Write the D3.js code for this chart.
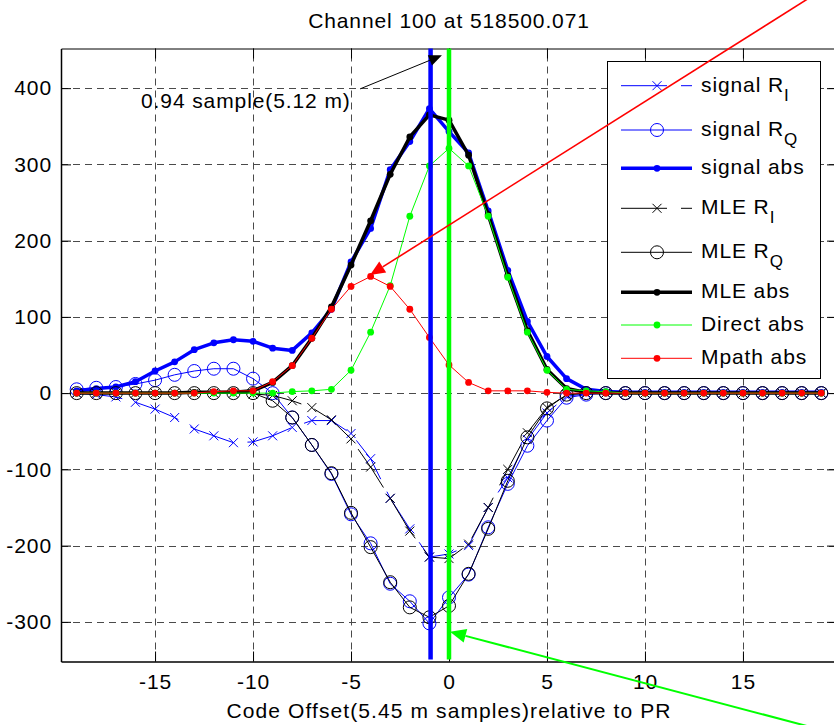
<!doctype html>
<html lang="en">
<head>
    <meta charset="UTF-8">
    <title>Channel 100 at 518500.071</title>
    <script src="https://d3js.org/d3.v7.min.js"></script>
    <style>
        body { margin: 0; background: #fff; }
        svg text {
            font-family: "Liberation Sans", Arial, Helvetica, sans-serif;
            letter-spacing: 0.9px;
            fill: #000;
        }
    </style>
</head>
<body>
<div class="canvas"></div>

<script>
  // code offsets (samples)
  const offsets = [-19, -18, -17, -16, -15, -14, -13, -12, -11, -10, -9, -8, -7, -6, -5, -4, -3, -2, -1, 0,
    1, 2, 3, 4, 5, 6, 7, 8, 9, 10, 11, 12, 13, 14, 15, 16, 17, 18, 19];

  // series
  const signalRI = [0, -2, -5, -12, -21, -32, -47, -56, -65, -64, -56, -45, -36, -36, -53, -86, -138, -178, -215, -211,
    -200, -150, -111, -61, -26, -4, -1, 0, 0, 0, 0, 0, 0, 0, 0, 0, 0, 0, 0];
  const signalRQ = [5, 7, 8, 12, 17, 24, 29, 32, 32, 19, 0, -32, -68, -106, -159, -197, -250, -273, -302, -268,
    -238, -176, -119, -69, -36, -6, -2, 0, 0, 0, 0, 0, 0, 0, 0, 0, 0, 0, 0];
  const signalAbs = [3, 6, 8, 15, 29, 41, 57, 66, 70, 68, 59, 56, 79, 110, 172, 216, 293, 330, 373, 343,
    315, 239, 161, 94, 48, 19, 5, 2, 1, 1, 1, 1, 1, 1, 1, 1, 1, 1, 1];
  const mleRI = [0, 0, 0, 0, 0, 0, 0, 0, 0, -1, -3, -10, -19, -35, -60, -97, -138, -181, -215, -217,
    -198, -150, -100, -52, -19, -2, 0, 0, 0, 0, 0, 0, 0, 0, 0, 0, 0, 0, 0];
  const mleRQ = [0, 0, 0, 0, 0, 0, 0, 0, 0, 0, -10, -32, -68, -105, -157, -202, -248, -281, -294, -279,
    -237, -178, -115, -58, -20, -2, 0, 0, 0, 0, 0, 0, 0, 0, 0, 0, 0, 0, 0];
  const mleAbs = [0, 0, 0, 0, 0, 0, 1, 1, 1, 3, 14, 36, 72, 113, 168, 226, 287, 336, 365, 358,
    312, 234, 154, 82, 31, 6, 1, 0, 0, 0, 0, 0, 0, 0, 0, 0, 0, 0, 0];
  const directAbs = [0, 0, 0, 0, 0, 0, 0, 0, 0, 0, 0, 2, 3, 5, 30, 80, 141, 232, 298, 321,
    298, 232, 152, 80, 30, 5, 3, 2, 0, 0, 0, 0, 0, 0, 0, 0, 0, 0, 0];
  const mpathAbs = [0, 0, 0, 0, 0, 0, 0, 2, 3, 3, 15, 36, 72, 110, 140, 153, 140, 110, 73, 37,
    14, 3, 3, 3, 1, 0, 0, 0, 0, 0, 0, 0, 0, 0, 0, 0, 0, 0, 0];

  const xTicks = [-15, -10, -5, 0, 5, 10, 15];
  const yTicks = [-300, -200, -100, 0, 100, 200, 300, 400];

  // vertical markers: estimated peak and PR
  const peakOffset = -0.94;
  const prOffset = 0;

  // annotation arrows [tailX, tailY, tipX, tipY] in data units
  const sampleArrow = [-4.54, 399, -0.36, 443];
  const mpathArrow = [20.46, 552, -4.03, 155];
  const directArrow = [19.65, -446, 0.05, -313];

  const width = 834, height = 725;
  const x = d3.scaleLinear().domain([-19.8, 19.8]).range([61, 837]);
  const y = d3.scaleLinear().domain([-352, 452]).range([661.5, 48.5]);

  const svg = d3.select('.canvas')
    .append('svg')
    .attr('width', width)
    .attr('height', height)

  const FS = 21;

  // grid
  const grid = svg.append('g')
    .attr('stroke', '#4a4a4a')
    .attr('stroke-width', 1)
    .attr('stroke-dasharray', '7,5')
  grid.selectAll('.gx')
    .data(xTicks)
    .join('line')
    .attr('x1', d => Math.round(x(d)) + 0.5)
    .attr('x2', d => Math.round(x(d)) + 0.5)
    .attr('y1', y.range()[0])
    .attr('y2', y.range()[1])
  grid.selectAll('.gy')
    .data(yTicks)
    .join('line')
    .attr('class', 'gy')
    .attr('y1', d => Math.round(y(d)) + 0.5)
    .attr('y2', d => Math.round(y(d)) + 0.5)
    .attr('x1', x.range()[0])
    .attr('x2', x.range()[1])

  // axes (MATLAB style box, ticks inside)
  function styleAxis(g) {
    g.selectAll('text')
      .attr('font-size', FS)
      .attr('font-family', '"Liberation Sans", Arial, sans-serif')
    g.selectAll('path, line').attr('stroke', '#000')
  }

  const plain = d => String(d)

  svg.append('g')
    .attr('transform', `translate(0,${y.range()[0]})`)
    .call(d3.axisBottom(x).tickValues(xTicks).tickFormat(plain).tickSizeInner(-10).tickSizeOuter(0).tickPadding(12.6))
    .call(styleAxis)
    .attr('font-size', FS)
    .call(g => g.select('.domain').attr('stroke-width', 1.5))

  svg.append('g')
    .attr('transform', `translate(0,${y.range()[1]})`)
    .call(d3.axisTop(x).tickValues(xTicks).tickSizeInner(-10).tickSizeOuter(0).tickFormat(''))
    .call(styleAxis)

  svg.append('g')
    .attr('transform', `translate(${x.range()[0]},0)`)
    .call(d3.axisLeft(y).tickValues(yTicks).tickFormat(plain).tickSizeInner(-10).tickSizeOuter(0).tickPadding(9))
    .call(styleAxis)
    .attr('font-size', FS)
    .call(g => g.select('.domain').attr('stroke-width', 1.5))

  svg.append('g')
    .attr('transform', `translate(${x.range()[1]},0)`)
    .call(d3.axisRight(y).tickValues(yTicks).tickSizeInner(-10).tickSizeOuter(0).tickFormat(''))
    .call(styleAxis)

  // series
  const series = [
    {name: 'signal R', sub: 'I', values: signalRI, color: '#0000ff', width: 1, dash: '46,14', marker: 'x'},
    {name: 'signal R', sub: 'Q', values: signalRQ, color: '#0000ff', width: 1, dash: null, marker: 'o'},
    {name: 'signal abs', values: signalAbs, color: '#0000ff', width: 3.5, dash: null, marker: '.'},
    {name: 'MLE R', sub: 'I', values: mleRI, color: '#000000', width: 1, dash: '46,14', marker: 'x'},
    {name: 'MLE R', sub: 'Q', values: mleRQ, color: '#000000', width: 1, dash: null, marker: 'o'},
    {name: 'MLE abs', values: mleAbs, color: '#000000', width: 3.5, dash: null, marker: '.'},
    {name: 'Direct abs', values: directAbs, color: '#00ff00', width: 1, dash: null, marker: '.'},
    {name: 'Mpath abs', values: mpathAbs, color: '#ff0000', width: 1, dash: null, marker: '.'}
  ];

  const line = d3.line()
    .x(d => x(d[0]))
    .y(d => y(d[1]))

  function drawMarker(sel, marker, color) {
    if (marker === 'x') {
      sel.append('path')
        .attr('d', 'M-4.5,-4.5L4.5,4.5M-4.5,4.5L4.5,-4.5')
        .attr('stroke', color)
        .attr('stroke-width', 1)
        .attr('fill', 'none')
    } else if (marker === 'o') {
      sel.append('circle')
        .attr('r', 6.5)
        .attr('stroke', color)
        .attr('stroke-width', 1)
        .attr('fill', 'none')
    } else {
      sel.append('circle')
        .attr('r', 3.4)
        .attr('fill', color)
    }
  }

  const plot = svg.append('g')
  series.forEach(s => {
    const pts = offsets.map((o, i) => [o, s.values[i]])
    const g = plot.append('g')
    g.append('path')
      .datum(pts)
      .attr('d', line)
      .attr('fill', 'none')
      .attr('stroke', s.color)
      .attr('stroke-width', s.width)
      .attr('stroke-dasharray', s.dash)
      .attr('stroke-linejoin', 'round')
    g.selectAll('g.m')
      .data(pts)
      .join('g')
      .attr('transform', d => `translate(${x(d[0])},${y(d[1])})`)
      .each(function () { drawMarker(d3.select(this), s.marker, s.color) })
  })

  // vertical lines
  plot.append('line')
    .attr('x1', x(peakOffset)).attr('x2', x(peakOffset))
    .attr('y1', y.range()[0] - 2).attr('y2', y.range()[1])
    .attr('stroke', '#0000ff').attr('stroke-width', 4.5)
  plot.append('line')
    .attr('x1', x(prOffset)).attr('x2', x(prOffset))
    .attr('y1', y.range()[0] - 2).attr('y2', y.range()[1])
    .attr('stroke', '#00ff00').attr('stroke-width', 4.5)

  // legend
  const legendRows = [85.7, 130, 168.3, 208.3, 252.3, 292.3, 325, 358.3];
  const legend = svg.append('g')
  legend.append('rect')
    .attr('x', 607.5).attr('y', 61.5)
    .attr('width', 213).attr('height', 317)
    .attr('fill', '#fff').attr('stroke', '#000').attr('stroke-width', 1)
  series.forEach((s, i) => {
    const ly = legendRows[i]
    const row = legend.append('g')
    row.append('line')
      .attr('x1', 621).attr('x2', 692)
      .attr('y1', ly).attr('y2', ly)
      .attr('stroke', s.color)
      .attr('stroke-width', s.width)
      .attr('stroke-dasharray', s.dash)
    drawMarker(row.append('g').attr('transform', `translate(657,${ly})`), s.marker, s.color)
    const t = row.append('text')
      .attr('x', 701)
      .attr('y', ly + 6)
      .attr('font-size', FS)
      .text(s.name)
    if (s.sub) {
      t.append('tspan')
        .attr('dy', 9)
        .attr('font-size', 17)
        .text(s.sub)
    }
  })

  // annotation arrows
  function arrow(a, color, w, head, hw) {
    const x1 = x(a[0]), y1 = y(a[1]), x2 = x(a[2]), y2 = y(a[3])
    const ang = Math.atan2(y2 - y1, x2 - x1)
    const bx = x2 - head * Math.cos(ang), by = y2 - head * Math.sin(ang)
    svg.append('line')
      .attr('x1', x1).attr('y1', y1)
      .attr('x2', bx).attr('y2', by)
      .attr('stroke', color).attr('stroke-width', w)
    const px = -Math.sin(ang) * hw, py = Math.cos(ang) * hw
    svg.append('path')
      .attr('d', `M${x2},${y2}L${bx + px},${by + py}L${bx - px},${by - py}Z`)
      .attr('fill', color)
  }

  arrow(sampleArrow, '#000', 1, 13, 5.5)
  arrow(mpathArrow, '#ff0000', 1.6, 15, 6.5)
  arrow(directArrow, '#00ff00', 2, 16, 7)

  svg.append('text')
    .attr('x', 141)
    .attr('y', 108)
    .attr('font-size', FS)
    .text('0.94 sample(5.12 m)')

  // title and label
  svg.append('text')
    .attr('x', 449)
    .attr('y', 28)
    .attr('text-anchor', 'middle')
    .attr('font-size', FS)
    .text('Channel 100 at 518500.071')

  svg.append('text')
    .attr('x', 449)
    .attr('y', 718)
    .attr('text-anchor', 'middle')
    .attr('font-size', FS)
    .style('letter-spacing', '1.1px')
    .text('Code Offset(5.45 m samples)relative to PR')
</script>
</body>
</html>
